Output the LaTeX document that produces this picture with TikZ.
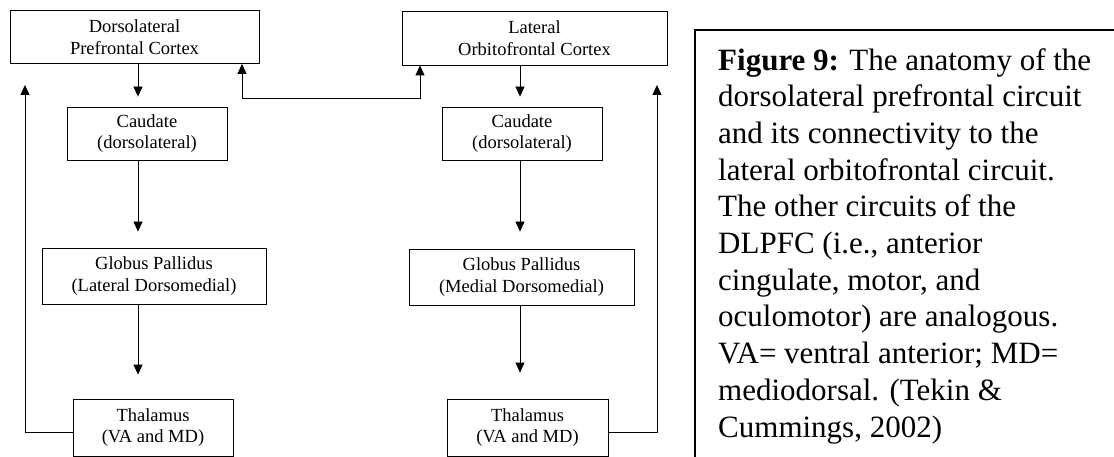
\documentclass[tikz,border=0pt]{standalone}
\usepackage{fontspec}
\setmainfont{Liberation Serif}
\usepackage{tikz}
\usetikzlibrary{arrows.meta}
\tikzset{box/.style={draw, line width=0.8pt, align=center, inner sep=0pt,
   font=\fontsize{18.5}{21.5}\selectfont},
 link/.style={line width=0.8pt},
 >={Triangle[length=10pt,width=9pt]},
 }

\begin{document}
\begin{tikzpicture}[x=1pt,y=-1pt]
        \useasboundingbox (0,0) rectangle (1114,457);
        % dorsolateral prefrontal circuit
        \node[box, minimum width=249pt, minimum height=53pt] (dlpfc) at (134.5,37) {Dorsolateral\\Prefrontal Cortex};
        \node[box, minimum width=160pt, minimum height=53pt] (caudL) at (147,133.5) {Caudate\\(dorsolateral)};
        \node[box, minimum width=224pt, minimum height=56pt] (gpL) at (154,276) {Globus Pallidus\\(Lateral Dorsomedial)};
        \node[box, minimum width=160pt, minimum height=57pt] (thalL) at (153,427.5) {Thalamus\\(VA and MD)};
        % lateral orbitofrontal circuit
        \node[box, minimum width=265pt, minimum height=54pt] (lofc) at (534.5,38) {Lateral\\Orbitofrontal Cortex};
        \node[box, minimum width=160pt, minimum height=53pt] (caudR) at (522,133.5) {Caudate\\(dorsolateral)};
        \node[box, minimum width=225pt, minimum height=56pt] (gpR) at (521.5,277) {Globus Pallidus\\(Medial Dorsomedial)};
        \node[box, minimum width=161pt, minimum height=57pt] (thalR) at (527.5,427.5) {Thalamus\\(VA and MD)};
        \coordinate (colL) at (138,0);
        \coordinate (colR) at (520,0);
        \coordinate (backL) at (25,85);
        \coordinate (backR) at (657,85);
        \coordinate (crossL) at (242,98);
        \coordinate (crossR) at (420,98);
        % down the loops
        \draw[link,->,shorten >=10pt] (dlpfc.south -| colL) -- (caudL.north -| colL);
        \draw[link,->,shorten >=16pt] (caudL.south -| colL) -- (gpL.north -| colL);
        \draw[link,->,shorten >=24pt] (gpL.south -| colL) -- (thalL.north -| colL);
        \draw[link,->,shorten >=10pt] (lofc.south -| colR) -- (caudR.north -| colR);
        \draw[link,->,shorten >=17pt] (caudR.south -| colR) -- (gpR.north -| colR);
        \draw[link,->,shorten >=26pt] (gpR.south -| colR) -- (thalR.north -| colR);
        % back to cortex
        \draw[link,->] (thalL.west |- 0,432) -| (backL);
        \draw[link,->] (thalR.east |- 0,432) -| (backR);
        \draw[link,<->] (dlpfc.south -| crossL) |- (crossL) -- (crossR) -| (lofc.south -| crossR);
        % caption
        \draw[line width=2pt] (695,457) |- (1114,30);
        \node[anchor=north west, inner sep=0pt, align=left,
          font=\fontsize{31}{36.7}\selectfont] (caption) at (718,48)
          {\textbf{Figure 9:} The anatomy of the\\
           dorsolateral prefrontal circuit\\
           and its connectivity to the\\
           lateral orbitofrontal circuit.\\
           The other circuits of the\\
           DLPFC (i.e., anterior\\
           cingulate, motor, and\\
           oculomotor) are analogous.\\
           VA= ventral anterior; MD=\\
           mediodorsal. (Tekin \&\\
           Cummings, 2002)};
\end{tikzpicture}
\end{document}
